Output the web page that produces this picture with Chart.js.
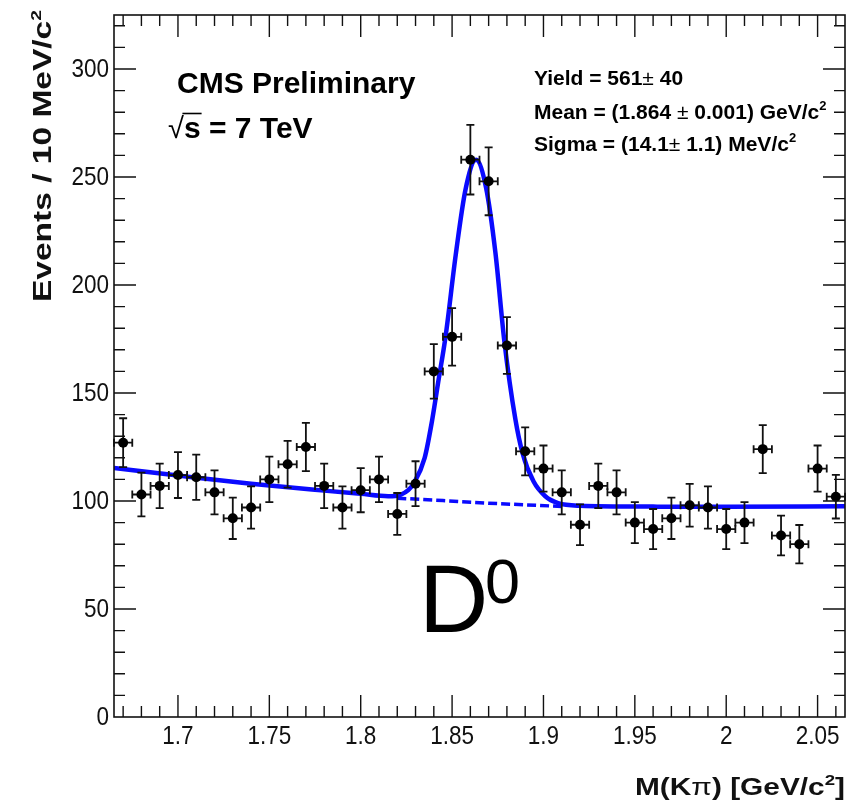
<!DOCTYPE html>
<html>
<head>
<meta charset="utf-8">
<title>D0 mass peak</title>
<script src="https://cdn.jsdelivr.net/npm/chart.js@4.4.0/dist/chart.umd.min.js"></script>
<style>
  html, body { margin: 0; padding: 0; background: #fff; }
  #wrap { width: 865px; height: 807px; }
</style>
</head>
<body>
<div id="wrap"><canvas id="massChart" width="865" height="807"></canvas></div>
<script>
// M(K pi) bin centres, 10 MeV wide bins [GeV/c^2]
const binCenters = [1.67, 1.68, 1.69, 1.70, 1.71, 1.72, 1.73, 1.74, 1.75, 1.76,
                    1.77, 1.78, 1.79, 1.80, 1.81, 1.82, 1.83, 1.84, 1.85, 1.86,
                    1.87, 1.88, 1.89, 1.90, 1.91, 1.92, 1.93, 1.94, 1.95, 1.96,
                    1.97, 1.98, 1.99, 2.00, 2.01, 2.02, 2.03, 2.04, 2.05, 2.06];
const binHalfWidth = 0.005;

// events per bin and their statistical errors
const eventCounts = [127, 103, 107, 112, 111, 104, 92, 97, 110, 117,
                     125, 107, 97, 105, 110, 94, 108, 160, 176, 258,
                     248, 172, 123, 115, 104, 89, 107, 104, 90, 87,
                     92, 98, 97, 87, 90, 124, 84, 80, 115, 102];
const countErrors = [11.3, 10.1, 10.3, 10.6, 10.5, 10.2, 9.6, 9.8, 10.5, 10.8,
                     11.2, 10.3, 9.8, 10.2, 10.5, 9.7, 10.4, 12.6, 13.3, 16.1,
                     15.7, 13.1, 11.1, 10.7, 10.2, 9.4, 10.3, 10.2, 9.5, 9.3,
                     9.6, 9.9, 9.8, 9.3, 9.5, 11.1, 9.2, 8.9, 10.7, 10.1];

// signal + background fit
const fitMass  = [1.665, 1.70, 1.74, 1.78, 1.80, 1.815, 1.822, 1.826, 1.829, 1.835,
                  1.839, 1.8424, 1.8464, 1.852, 1.8573, 1.8631, 1.8686, 1.8737, 1.8786, 1.8846,
                  1.8886, 1.8946, 1.901, 1.908, 1.92, 1.96, 2.00, 2.065];
const fitCurve = [115.3, 111.8, 108.0, 104.8, 103.3, 102.2, 103.0, 105.0, 108.2, 120.0,
                  137.0, 155.0, 176.0, 214.0, 244.0, 258.0, 245.0, 215.0, 174.0, 138.0,
                  122.0, 109.0, 102.2, 99.0, 97.8, 97.4, 97.3, 97.6];

// background component under the peak
const bkgMass  = [1.82, 1.845, 1.87, 1.89, 1.91];
const bkgCurve = [101.3, 100.2, 99.0, 98.2, 97.5];

const xMajorTicks = [1.7, 1.75, 1.8, 1.85, 1.9, 1.95, 2.0, 2.05];
const xTickLabels = ['1.7', '1.75', '1.8', '1.85', '1.9', '1.95', '2', '2.05'];
const yMajorTicks = [0, 50, 100, 150, 200, 250, 300];
const yTickLabels = ['0', '50', '100', '150', '200', '250', '300'];

const FONT = "'Liberation Sans', Arial, Helvetica, sans-serif";
const FIT_BLUE = '#0a0aff';

// draw a list of text runs left to right
function runsWidth(ctx, runs) {
    let w = 0;
    runs.forEach(r => { ctx.font = r.font; w += ctx.measureText(r.t).width; });
    return w;
}
function drawRuns(ctx, x, y, runs) {
    runs.forEach(r => {
        ctx.font = r.font;
        ctx.fillText(r.t, x, y + (r.dy || 0));
        x += ctx.measureText(r.t).width;
    });
    return x;
}
// slightly condensed tick label text
function narrowText(ctx, text, x, y, align) {
    const sx = 0.9;
    const w = ctx.measureText(text).width * sx;
    let x0 = x;
    if (align === 'right') x0 = x - w;
    if (align === 'center') x0 = x - w / 2;
    ctx.save();
    ctx.translate(x0, y);
    ctx.scale(sx, 1);
    ctx.fillText(text, 0, 0);
    ctx.restore();
}

const histoDecor = {
    id: 'histoDecor',
    // error bars go under the markers
    beforeDatasetDraw(chart, args) {
        if (args.index !== 0) return;
        const xs = chart.scales.x, ys = chart.scales.y, ctx = chart.ctx;
        ctx.save();
        ctx.strokeStyle = '#111';
        ctx.lineWidth = 1.8;
        binCenters.forEach((m, i) => {
            const px = xs.getPixelForValue(m);
            const py = ys.getPixelForValue(eventCounts[i]);
            const top = ys.getPixelForValue(eventCounts[i] + countErrors[i]);
            const bot = ys.getPixelForValue(eventCounts[i] - countErrors[i]);
            const left = xs.getPixelForValue(m - binHalfWidth);
            const right = xs.getPixelForValue(m + binHalfWidth);
            ctx.beginPath();
            ctx.moveTo(px, top); ctx.lineTo(px, bot);
            ctx.moveTo(px - 4, top); ctx.lineTo(px + 4, top);
            ctx.moveTo(px - 4, bot); ctx.lineTo(px + 4, bot);
            ctx.moveTo(left, py); ctx.lineTo(right, py);
            ctx.moveTo(left, py - 4); ctx.lineTo(left, py + 4);
            ctx.moveTo(right, py - 4); ctx.lineTo(right, py + 4);
            ctx.stroke();
        });
        ctx.restore();
    },
    afterDraw(chart) {
        const xs = chart.scales.x, ys = chart.scales.y, ctx = chart.ctx;
        const a = chart.chartArea;
        ctx.save();

        // frame
        ctx.strokeStyle = '#111';
        ctx.lineWidth = 1.6;
        ctx.strokeRect(a.left, a.top, a.right - a.left, a.bottom - a.top);

        // inward ticks on all four sides
        ctx.lineWidth = 1.4;
        ctx.beginPath();
        binCenters.forEach(m => {
            const px = xs.getPixelForValue(m);
            const major = xMajorTicks.some(t => Math.abs(t - m) < 1e-6);
            const len = major ? 22 : 11;
            ctx.moveTo(px, a.bottom); ctx.lineTo(px, a.bottom - len);
            ctx.moveTo(px, a.top); ctx.lineTo(px, a.top + len);
        });
        for (let v = 10; v <= 320; v += 10) {
            const py = ys.getPixelForValue(v);
            const len = v % 50 === 0 ? 22 : 11;
            ctx.moveTo(a.left, py); ctx.lineTo(a.left + len, py);
            ctx.moveTo(a.right, py); ctx.lineTo(a.right - len, py);
        }
        ctx.stroke();

        // tick labels
        ctx.fillStyle = '#111';
        ctx.font = '25px ' + FONT;
        ctx.textBaseline = 'middle';
        ctx.textAlign = 'left';
        yMajorTicks.forEach((v, i) => narrowText(ctx, yTickLabels[i], a.left - 5, ys.getPixelForValue(v) + 1, 'right'));
        xMajorTicks.forEach((v, i) => narrowText(ctx, xTickLabels[i], xs.getPixelForValue(v), 737, 'center'));

        ctx.textBaseline = 'alphabetic';

        // x axis title, right aligned to the frame
        const xTitle = [
            { t: 'M(K', font: 'bold 24px ' + FONT },
            { t: 'π', font: '24px ' + FONT },
            { t: ') [GeV/c', font: 'bold 24px ' + FONT },
            { t: '2', font: 'bold 15px ' + FONT, dy: -10 },
            { t: ']', font: 'bold 24px ' + FONT }
        ];
        let w = runsWidth(ctx, xTitle);
        ctx.save();
        ctx.translate(a.right - 210, 795);
        ctx.scale(210 / w, 1);
        drawRuns(ctx, 0, 0, xTitle);
        ctx.restore();

        // y axis title, rotated and ending at the top
        const yTitle = [
            { t: 'Events / 10 MeV/c', font: 'bold 26px ' + FONT },
            { t: '2', font: 'bold 15px ' + FONT, dy: -10 }
        ];
        w = runsWidth(ctx, yTitle);
        ctx.save();
        ctx.translate(51, 10);
        ctx.rotate(-Math.PI / 2);
        ctx.scale(292 / w, 1);
        drawRuns(ctx, -w, 0, yTitle);
        ctx.restore();

        // experiment labels
        ctx.fillStyle = '#000';
        ctx.font = 'bold 30px ' + FONT;
        ctx.fillText('CMS Preliminary', 177, 93);
        ctx.font = '29px ' + FONT;
        const rootW = ctx.measureText('√').width;
        const sEnd = drawRuns(ctx, 168, 138, [
            { t: '√', font: '29px ' + FONT },
            { t: 's', font: 'bold 30px ' + FONT }
        ]);
        drawRuns(ctx, sEnd, 138, [{ t: ' = 7 TeV', font: 'bold 30px ' + FONT }]);
        // overbar of the square root
        ctx.strokeStyle = '#000';
        ctx.lineWidth = 1.6;
        ctx.beginPath();
        ctx.moveTo(168 + rootW - 1.5, 113.5);
        ctx.lineTo(sEnd + 1, 113.5);
        ctx.stroke();

        // fit results
        const bold = 'bold 21px ' + FONT, reg = '21px ' + FONT, sup = 'bold 13px ' + FONT;
        drawRuns(ctx, 534, 85, [
            { t: 'Yield = 561', font: bold }, { t: '±', font: reg }, { t: ' 40', font: bold }
        ]);
        drawRuns(ctx, 534, 119, [
            { t: 'Mean = (1.864 ', font: bold }, { t: '±', font: reg },
            { t: ' 0.001) GeV/c', font: bold }, { t: '2', font: sup, dy: -9 }
        ]);
        drawRuns(ctx, 534, 151, [
            { t: 'Sigma = (14.1', font: bold }, { t: '±', font: reg },
            { t: ' 1.1) MeV/c', font: bold }, { t: '2', font: sup, dy: -9 }
        ]);

        // particle label
        ctx.font = '96px ' + FONT;
        ctx.fillText('D', 419, 632);
        ctx.font = '63px ' + FONT;
        ctx.fillText('0', 485, 603);

        ctx.restore();
    }
};

new Chart(document.getElementById('massChart').getContext('2d'), {
    type: 'scatter',
    data: {
        datasets: [
            {
                label: 'data',
                data: binCenters.map((m, i) => ({ x: m, y: eventCounts[i] })),
                pointRadius: 5,
                pointBackgroundColor: '#000',
                pointBorderColor: '#000',
                pointBorderWidth: 0,
                showLine: false
            },
            {
                label: 'fit',
                type: 'line',
                data: fitMass.map((m, i) => ({ x: m, y: fitCurve[i] })),
                borderColor: FIT_BLUE,
                borderWidth: 4.5,
                pointRadius: 0,
                fill: false,
                cubicInterpolationMode: 'monotone'
            },
            {
                label: 'background',
                type: 'line',
                data: bkgMass.map((m, i) => ({ x: m, y: bkgCurve[i] })),
                borderColor: FIT_BLUE,
                borderWidth: 3.5,
                borderDash: [9, 4],
                pointRadius: 0,
                fill: false
            }
        ]
    },
    options: {
        responsive: false,
        animation: false,
        devicePixelRatio: 1,
        events: [],
        layout: { padding: { left: 114, right: 20, top: 15, bottom: 90 } },
        scales: {
            x: { type: 'linear', min: 1.665, max: 2.065, display: false },
            y: { type: 'linear', min: 0, max: 325, display: false }
        },
        plugins: {
            legend: { display: false },
            tooltip: { enabled: false }
        }
    },
    plugins: [histoDecor]
});
</script>
</body>
</html>
